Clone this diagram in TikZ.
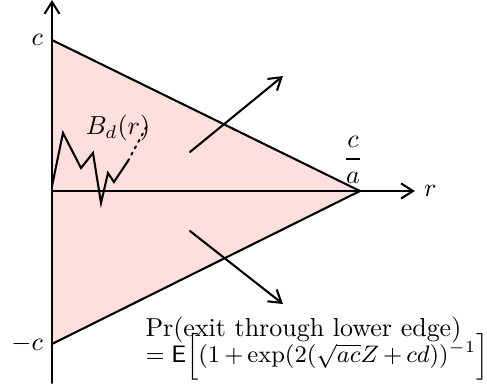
\RequirePackage{fix-cm}
\documentclass[tikz,border=0pt]{standalone}
\usepackage{tkz-euclide}
\usetikzlibrary{arrows.meta}
\definecolor{RegionClr}{rgb}{1,0.87,0.87}

\begin{document}
\begin{tikzpicture}[scale=.6766,>={Straight Barb[length=4.6pt,width=5.8pt]}]
\tkzSetUpLine[line width=.8pt,color=black]

\useasboundingbox (-1.04,-3.92) rectangle (8.70,3.82);

\tkzDefPoints{0/0/O,0/3.02/C,0/-3.06/D,6.16/0/A,0/3.82/Y,0/-3.84/Z,7.26/0/X}
\tkzDefPoints{2.76/0.78/U1,4.62/2.30/U2,2.76/-0.80/L1,4.62/-2.26/L2}
\tkzDefPoints{0/0.1/W0,0.22/1.16/W1,0.58/0.46/W2,0.82/0.76/W3,0.98/-0.24/W4,1.12/0.36/W5,1.24/0.18/W6,1.52/0.60/W7,1.92/1.34/W8}
\tkzDefPoints{1.86/-2.92/P1,1.86/-3.44/P2,1.32/1.26/B,6.02/0.62/Q}

\tkzFillPolygon[color=RegionClr](C,A,D)
\tkzDrawSegments(C,A A,D)

\tkzDrawSegments[->](Z,Y O,X U1,U2 L1,L2)

\tkzDrawPolySeg(W0,W1,W2,W3,W4,W5,W6,W7)
\tkzDrawSegments[dotted](W7,W8)

\tkzLabelPoint[left](C){$c$}
\tkzLabelPoint[left](D){$-c$}
\tkzLabelPoint[right](X){$r$}
\node (ca) at (Q) {$\displaystyle\frac{c}{a}$};
\node (bd) at (B) {$B_d(r)$};

\node[anchor=base west,inner sep=0pt] (pr) at (P1) {Pr(exit through lower edge)};
\node[anchor=base west,inner sep=0pt,font=\fontsize{9.2pt}{11pt}\selectfont] (ex) at (P2) {$\medmuskip=3mu=\mathsf{E}\Bigl[(1+\exp(2(\sqrt{ac}Z+cd))^{-1}\Bigr]$};

\end{tikzpicture}
\end{document}
